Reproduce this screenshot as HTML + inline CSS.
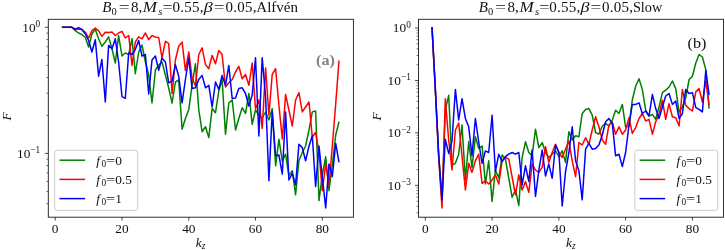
<!DOCTYPE html>
<html><head><meta charset="utf-8"><title>plot</title>
<style>html,body{margin:0;padding:0;background:#fff}svg{display:block}</style>
</head><body>
<svg width="725" height="250" viewBox="0 0 725 250" font-family='"Liberation Serif", "DejaVu Serif", serif' fill="#111">
<rect width="725" height="250" fill="#fff"/>
<clipPath id="c48"><rect x="48.3" y="19.3" width="305.09999999999997" height="197.89999999999998"/></clipPath>
<g clip-path="url(#c48)">
<polyline points="61.9,27.3 65.2,27.3 68.6,27.3 71.9,27.3 75.2,30.6 78.6,33.0 81.9,34.7 85.3,37.5 88.6,47.0 91.9,34.0 95.3,29.2 98.6,38.8 101.9,46.3 105.3,42.0 108.6,36.9 112.0,48.8 115.3,63.0 118.6,35.5 122.0,56.0 125.3,53.0 128.7,54.5 132.0,38.8 135.3,73.7 138.7,52.0 142.0,45.0 145.4,62.0 148.7,75.0 152.0,103.0 155.4,70.0 158.7,65.0 162.0,62.0 165.4,75.0 168.7,88.0 172.1,103.0 175.4,82.0 178.7,80.0 182.1,129.2 185.4,118.5 188.8,109.4 192.1,85.0 195.4,63.8 198.8,110.0 202.1,131.7 205.5,126.8 208.8,137.6 212.1,108.6 215.5,112.7 218.8,91.0 222.1,79.5 225.5,134.2 228.8,103.0 232.2,100.0 235.5,130.0 238.8,118.5 242.2,107.7 245.5,113.5 248.9,93.5 252.2,124.3 255.5,110.0 258.9,115.0 262.2,118.0 265.6,112.0 268.9,120.0 272.2,108.6 275.6,165.8 278.9,139.3 282.3,160.8 285.6,154.2 288.9,175.7 292.3,170.7 295.6,194.8 298.9,160.8 302.3,152.5 305.6,146.0 309.0,130.0 312.3,111.9 315.6,111.0 319.0,200.6 322.3,175.0 325.7,156.7 329.0,190.7 332.3,165.0 335.7,135.0 339.0,121.8" fill="none" stroke="#008000" stroke-width="1.5" stroke-linejoin="round" stroke-linecap="butt"/>
<polyline points="61.9,27.3 65.2,27.3 68.6,27.3 71.9,27.3 75.2,29.7 78.6,28.9 81.9,29.2 85.3,32.2 88.6,38.0 91.9,30.6 95.3,28.1 98.6,30.9 101.9,36.4 105.3,32.2 108.6,32.6 112.0,31.9 115.3,35.5 118.6,33.0 122.0,31.4 125.3,38.0 128.7,35.5 132.0,65.4 135.3,42.0 138.7,36.9 142.0,38.8 145.4,33.0 148.7,39.7 152.0,35.5 155.4,37.2 158.7,37.5 162.0,57.8 165.4,41.3 168.7,43.5 172.1,93.5 175.4,60.0 178.7,46.3 182.1,42.1 185.4,70.4 188.8,52.0 192.1,78.0 195.4,86.0 198.8,54.5 202.1,47.9 205.5,64.6 208.8,68.7 212.1,55.4 215.5,63.8 218.8,50.4 222.1,54.5 225.5,87.0 228.8,82.8 232.2,79.5 235.5,72.0 238.8,66.3 242.2,78.7 245.5,74.5 248.9,85.3 252.2,63.0 255.5,109.0 258.9,100.0 262.2,128.4 265.6,68.0 268.9,115.0 272.2,74.5 275.6,68.7 278.9,105.0 282.3,139.0 285.6,94.4 288.9,110.0 292.3,126.0 295.6,100.0 298.9,92.7 302.3,111.9 305.6,107.0 309.0,102.0 312.3,137.0 315.6,132.5 319.0,152.5 322.3,190.7 325.7,164.0 329.0,185.7 332.3,146.0 335.7,104.0 339.0,60.5" fill="none" stroke="#ff0000" stroke-width="1.5" stroke-linejoin="round" stroke-linecap="butt"/>
<polyline points="61.9,27.3 65.2,27.3 68.6,27.3 71.9,27.3 75.2,29.2 78.6,27.6 81.9,29.7 85.3,33.9 88.6,40.5 91.9,52.0 95.3,39.7 98.6,76.2 101.9,59.5 105.3,102.0 108.6,45.4 112.0,48.8 115.3,38.8 118.6,62.0 122.0,96.6 125.3,98.3 128.7,53.0 132.0,54.5 135.3,49.6 138.7,40.5 142.0,56.0 145.4,54.5 148.7,94.0 152.0,60.0 155.4,56.0 158.7,70.4 162.0,58.0 165.4,62.0 168.7,82.8 172.1,81.0 175.4,64.6 178.7,76.2 182.1,102.8 185.4,79.5 188.8,58.0 192.1,88.6 195.4,87.8 198.8,79.5 202.1,75.4 205.5,87.8 208.8,85.3 212.1,107.0 215.5,82.0 218.8,89.4 222.1,75.4 225.5,85.3 228.8,65.4 232.2,98.5 235.5,98.0 238.8,88.6 242.2,87.8 245.5,93.5 248.9,106.0 252.2,95.0 255.5,57.8 258.9,136.0 262.2,57.8 265.6,97.0 268.9,180.7 272.2,111.9 275.6,155.8 278.9,155.0 282.3,174.0 285.6,111.9 288.9,180.0 292.3,173.3 295.6,184.9 298.9,144.3 302.3,147.6 305.6,160.8 309.0,146.0 312.3,135.8 315.6,186.5 319.0,146.0 322.3,177.0 325.7,208.0 329.0,164.0 332.3,176.6 335.7,143.4 339.0,162.4" fill="none" stroke="#0000ff" stroke-width="1.5" stroke-linejoin="round" stroke-linecap="butt"/>
</g>
<rect x="54.7" y="150.2" width="83" height="60.2" rx="2.5" ry="2.5" fill="#fff" fill-opacity="0.8" stroke="#cccccc" stroke-width="1"/>
<line x1="59.5" y1="160.2" x2="85.1" y2="160.2" stroke="#008000" stroke-width="1.5"/>
<text x="96.30000000000001" y="164.7" font-size="13.3" font-style="italic">f</text>
<text x="101.5" y="166.79999999999998" font-size="9.3">0</text>
<text x="105.9" y="164.7" font-size="13.3" textLength="9.2" lengthAdjust="spacingAndGlyphs">=</text>
<text x="115.2" y="164.7" font-size="13.3">0</text>
<line x1="59.5" y1="179.4" x2="85.1" y2="179.4" stroke="#ff0000" stroke-width="1.5"/>
<text x="96.30000000000001" y="183.9" font-size="13.3" font-style="italic">f</text>
<text x="101.5" y="186.0" font-size="9.3">0</text>
<text x="105.9" y="183.9" font-size="13.3" textLength="9.2" lengthAdjust="spacingAndGlyphs">=</text>
<text x="115.2" y="183.9" font-size="13.3">0.5</text>
<line x1="59.5" y1="198.6" x2="85.1" y2="198.6" stroke="#0000ff" stroke-width="1.5"/>
<text x="96.30000000000001" y="203.1" font-size="13.3" font-style="italic">f</text>
<text x="101.5" y="205.2" font-size="9.3">0</text>
<text x="105.9" y="203.1" font-size="13.3" textLength="9.2" lengthAdjust="spacingAndGlyphs">=</text>
<text x="115.2" y="203.1" font-size="13.3">1</text>
<rect x="48.3" y="19.3" width="305.09999999999997" height="197.89999999999998" fill="none" stroke="#1a1a1a" stroke-width="0.9"/>
<line x1="55.2" y1="217.2" x2="55.2" y2="220.6" stroke="#1a1a1a" stroke-width="0.8"/>
<text x="55.2" y="232.6" font-size="13.3" text-anchor="middle">0</text>
<line x1="122.0" y1="217.2" x2="122.0" y2="220.6" stroke="#1a1a1a" stroke-width="0.8"/>
<text x="122.0" y="232.6" font-size="13.3" text-anchor="middle">20</text>
<line x1="188.8" y1="217.2" x2="188.8" y2="220.6" stroke="#1a1a1a" stroke-width="0.8"/>
<text x="188.8" y="232.6" font-size="13.3" text-anchor="middle">40</text>
<line x1="255.5" y1="217.2" x2="255.5" y2="220.6" stroke="#1a1a1a" stroke-width="0.8"/>
<text x="255.5" y="232.6" font-size="13.3" text-anchor="middle">60</text>
<line x1="322.3" y1="217.2" x2="322.3" y2="220.6" stroke="#1a1a1a" stroke-width="0.8"/>
<text x="322.3" y="232.6" font-size="13.3" text-anchor="middle">80</text>
<line x1="44.9" y1="27.3" x2="48.3" y2="27.3" stroke="#1a1a1a" stroke-width="0.8"/>
<text x="40.2" y="31.5" font-size="13.3" text-anchor="end">10<tspan font-size="9.3" dy="-4.6">0</tspan></text>
<line x1="46.3" y1="115.4" x2="48.3" y2="115.4" stroke="#1a1a1a" stroke-width="0.6"/>
<line x1="46.3" y1="93.2" x2="48.3" y2="93.2" stroke="#1a1a1a" stroke-width="0.6"/>
<line x1="46.3" y1="77.5" x2="48.3" y2="77.5" stroke="#1a1a1a" stroke-width="0.6"/>
<line x1="46.3" y1="65.3" x2="48.3" y2="65.3" stroke="#1a1a1a" stroke-width="0.6"/>
<line x1="46.3" y1="55.3" x2="48.3" y2="55.3" stroke="#1a1a1a" stroke-width="0.6"/>
<line x1="46.3" y1="46.8" x2="48.3" y2="46.8" stroke="#1a1a1a" stroke-width="0.6"/>
<line x1="46.3" y1="39.5" x2="48.3" y2="39.5" stroke="#1a1a1a" stroke-width="0.6"/>
<line x1="46.3" y1="33.1" x2="48.3" y2="33.1" stroke="#1a1a1a" stroke-width="0.6"/>
<line x1="44.9" y1="153.4" x2="48.3" y2="153.4" stroke="#1a1a1a" stroke-width="0.8"/>
<text x="40.2" y="157.6" font-size="13.3" text-anchor="end">10<tspan font-size="9.3" dy="-4.6">−1</tspan></text>
<line x1="46.3" y1="203.6" x2="48.3" y2="203.6" stroke="#1a1a1a" stroke-width="0.6"/>
<line x1="46.3" y1="191.4" x2="48.3" y2="191.4" stroke="#1a1a1a" stroke-width="0.6"/>
<line x1="46.3" y1="181.4" x2="48.3" y2="181.4" stroke="#1a1a1a" stroke-width="0.6"/>
<line x1="46.3" y1="172.9" x2="48.3" y2="172.9" stroke="#1a1a1a" stroke-width="0.6"/>
<line x1="46.3" y1="165.6" x2="48.3" y2="165.6" stroke="#1a1a1a" stroke-width="0.6"/>
<line x1="46.3" y1="159.2" x2="48.3" y2="159.2" stroke="#1a1a1a" stroke-width="0.6"/>
<text x="102.2" y="12.2" font-size="15" font-style="italic">B</text>
<text x="111.5" y="14.6" font-size="10.5">0</text>
<text x="118.7" y="12.2" font-size="15" textLength="10.8" lengthAdjust="spacingAndGlyphs">=</text>
<text x="130.9" y="12.2" font-size="15" >8,</text>
<text x="142.8" y="12.2" font-size="15" font-style="italic" textLength="14.2" lengthAdjust="spacingAndGlyphs">M</text>
<text x="158.3" y="14.6" font-size="10.5" font-style="italic">s</text>
<text x="162.6" y="12.2" font-size="15" textLength="10.2" lengthAdjust="spacingAndGlyphs">=</text>
<text x="172.6" y="12.2" font-size="15" textLength="31" lengthAdjust="spacing">0.55,</text>
<text x="203.8" y="12.2" font-size="15" font-style="italic" textLength="9" lengthAdjust="spacingAndGlyphs">β</text>
<text x="213.8" y="12.2" font-size="15" textLength="10.7" lengthAdjust="spacingAndGlyphs">=</text>
<text x="225.4" y="12.2" font-size="15" textLength="31" lengthAdjust="spacing">0.05,</text>
<text x="256.3" y="12.2" font-size="15" >Alfvén</text>
<text x="195.8" y="246.9" font-size="13.3" font-style="italic">k<tspan font-size="9.3" dy="2">z</tspan></text>
<text transform="translate(11,120.6) rotate(-90)" font-size="13.3" font-style="italic">F</text>
<text x="316.05" y="64.9" font-size="15.5" textLength="18.9" lengthAdjust="spacingAndGlyphs" font-weight="bold" fill="#828282">(a)</text>
<clipPath id="c418"><rect x="418.5" y="19.3" width="305.0" height="197.89999999999998"/></clipPath>
<g clip-path="url(#c418)">
<polyline points="432.0,27.0 435.3,88.0 438.7,155.0 442.0,200.0 445.3,110.0 448.7,95.2 452.0,165.0 455.4,163.3 458.7,154.2 462.0,125.1 465.4,180.0 468.7,141.8 472.0,167.4 475.4,136.7 478.7,148.4 482.1,146.0 485.4,184.0 488.7,160.8 492.1,201.4 495.4,170.0 498.8,178.0 502.1,155.0 505.4,159.0 508.8,178.0 512.1,197.3 515.5,189.9 518.8,205.6 522.1,157.5 525.5,141.8 528.8,152.5 532.1,155.8 535.5,129.2 538.8,147.6 542.2,142.6 545.5,152.5 548.8,157.5 552.2,154.2 555.5,150.9 558.9,156.7 562.2,150.9 565.5,162.4 568.9,131.7 572.2,140.0 575.6,135.8 578.9,136.7 582.2,113.5 585.6,109.4 588.9,108.6 592.2,115.2 595.6,132.5 598.9,134.2 602.3,126.0 605.6,123.4 608.9,126.0 612.3,120.1 615.6,110.2 619.0,113.5 622.3,104.4 625.6,127.0 629.0,126.0 632.3,100.0 635.7,86.0 639.0,78.7 642.3,89.4 645.7,110.2 649.0,116.0 652.4,114.4 655.7,119.3 659.0,107.0 662.4,92.7 665.7,90.2 669.0,87.0 672.4,81.0 675.7,88.6 679.1,112.0 682.4,107.0 685.7,98.0 689.1,79.5 692.4,76.2 695.8,63.0 699.1,54.5 702.4,57.0 705.8,69.6 709.1,108.6" fill="none" stroke="#008000" stroke-width="1.5" stroke-linejoin="round" stroke-linecap="butt"/>
<polyline points="432.0,27.0 435.3,90.0 438.7,158.0 442.0,208.0 445.3,98.7 448.7,140.0 452.0,170.0 455.4,130.0 458.7,123.0 462.0,156.0 465.4,189.9 468.7,163.3 472.0,172.4 475.4,160.8 478.7,154.2 482.1,183.3 485.4,180.8 488.7,184.0 492.1,180.0 495.4,174.8 498.8,184.0 502.1,160.8 505.4,157.5 508.8,159.1 512.1,177.0 515.5,194.8 518.8,174.8 522.1,189.9 525.5,181.6 528.8,192.4 532.1,164.0 535.5,170.0 538.8,172.4 542.2,167.4 545.5,146.7 548.8,162.4 552.2,152.5 555.5,144.3 558.9,152.5 562.2,157.5 565.5,149.2 568.9,141.0 572.2,160.8 575.6,176.7 578.9,142.6 582.2,145.0 585.6,137.7 588.9,144.3 592.2,130.0 595.6,116.8 598.9,126.8 602.3,140.0 605.6,144.3 608.9,125.0 612.3,122.0 615.6,134.2 619.0,126.8 622.3,134.2 625.6,130.0 629.0,117.7 632.3,133.4 635.7,127.6 639.0,118.5 642.3,113.5 645.7,121.0 649.0,119.3 652.4,134.2 655.7,121.8 659.0,114.4 662.4,100.3 665.7,119.3 669.0,103.6 672.4,116.8 675.7,117.7 679.1,126.0 682.4,89.4 685.7,105.3 689.1,108.6 692.4,111.0 695.8,91.9 699.1,88.6 702.4,102.0 705.8,81.0 709.1,105.0" fill="none" stroke="#ff0000" stroke-width="1.5" stroke-linejoin="round" stroke-linecap="butt"/>
<polyline points="432.0,27.0 435.3,88.0 438.7,155.0 442.0,199.8 445.3,139.3 448.7,153.4 452.0,141.0 455.4,89.4 458.7,120.0 462.0,98.7 465.4,118.5 468.7,126.8 472.0,155.8 475.4,118.5 478.7,142.0 482.1,163.3 485.4,150.9 488.7,152.5 492.1,115.2 495.4,171.5 498.8,154.2 502.1,161.6 505.4,156.7 508.8,154.2 512.1,152.5 515.5,154.2 518.8,152.5 522.1,184.9 525.5,165.8 528.8,181.6 532.1,150.0 535.5,196.5 538.8,170.7 542.2,150.0 545.5,176.0 548.8,164.0 552.2,178.3 555.5,145.0 558.9,152.5 562.2,206.0 565.5,172.0 568.9,152.5 572.2,126.8 575.6,160.8 578.9,170.7 582.2,199.8 585.6,149.2 588.9,143.4 592.2,149.2 595.6,148.4 598.9,145.0 602.3,135.0 605.6,121.8 608.9,118.5 612.3,123.4 615.6,155.8 619.0,154.2 622.3,166.6 625.6,152.5 629.0,125.0 632.3,104.4 635.7,104.4 639.0,102.8 642.3,113.5 645.7,111.0 649.0,116.0 652.4,94.4 655.7,108.6 659.0,118.5 662.4,107.0 665.7,96.0 669.0,93.5 672.4,104.4 675.7,101.0 679.1,118.5 682.4,113.5 685.7,89.4 689.1,93.5 692.4,92.7 695.8,107.7 699.1,109.4 702.4,111.9 705.8,70.4 709.1,95.2" fill="none" stroke="#0000ff" stroke-width="1.5" stroke-linejoin="round" stroke-linecap="butt"/>
</g>
<rect x="634.8" y="150.2" width="83" height="60.2" rx="2.5" ry="2.5" fill="#fff" fill-opacity="0.8" stroke="#cccccc" stroke-width="1"/>
<line x1="639.5999999999999" y1="160.2" x2="665.1999999999999" y2="160.2" stroke="#008000" stroke-width="1.5"/>
<text x="676.4" y="164.7" font-size="13.3" font-style="italic">f</text>
<text x="681.5999999999999" y="166.79999999999998" font-size="9.3">0</text>
<text x="686.0" y="164.7" font-size="13.3" textLength="9.2" lengthAdjust="spacingAndGlyphs">=</text>
<text x="695.3" y="164.7" font-size="13.3">0</text>
<line x1="639.5999999999999" y1="179.4" x2="665.1999999999999" y2="179.4" stroke="#ff0000" stroke-width="1.5"/>
<text x="676.4" y="183.9" font-size="13.3" font-style="italic">f</text>
<text x="681.5999999999999" y="186.0" font-size="9.3">0</text>
<text x="686.0" y="183.9" font-size="13.3" textLength="9.2" lengthAdjust="spacingAndGlyphs">=</text>
<text x="695.3" y="183.9" font-size="13.3">0.5</text>
<line x1="639.5999999999999" y1="198.6" x2="665.1999999999999" y2="198.6" stroke="#0000ff" stroke-width="1.5"/>
<text x="676.4" y="203.1" font-size="13.3" font-style="italic">f</text>
<text x="681.5999999999999" y="205.2" font-size="9.3">0</text>
<text x="686.0" y="203.1" font-size="13.3" textLength="9.2" lengthAdjust="spacingAndGlyphs">=</text>
<text x="695.3" y="203.1" font-size="13.3">1</text>
<rect x="418.5" y="19.3" width="305.0" height="197.89999999999998" fill="none" stroke="#1a1a1a" stroke-width="0.9"/>
<line x1="425.3" y1="217.2" x2="425.3" y2="220.6" stroke="#1a1a1a" stroke-width="0.8"/>
<text x="425.3" y="232.6" font-size="13.3" text-anchor="middle">0</text>
<line x1="492.1" y1="217.2" x2="492.1" y2="220.6" stroke="#1a1a1a" stroke-width="0.8"/>
<text x="492.1" y="232.6" font-size="13.3" text-anchor="middle">20</text>
<line x1="558.9" y1="217.2" x2="558.9" y2="220.6" stroke="#1a1a1a" stroke-width="0.8"/>
<text x="558.9" y="232.6" font-size="13.3" text-anchor="middle">40</text>
<line x1="625.6" y1="217.2" x2="625.6" y2="220.6" stroke="#1a1a1a" stroke-width="0.8"/>
<text x="625.6" y="232.6" font-size="13.3" text-anchor="middle">60</text>
<line x1="692.4" y1="217.2" x2="692.4" y2="220.6" stroke="#1a1a1a" stroke-width="0.8"/>
<text x="692.4" y="232.6" font-size="13.3" text-anchor="middle">80</text>
<line x1="415.1" y1="28.0" x2="418.5" y2="28.0" stroke="#1a1a1a" stroke-width="0.8"/>
<text x="410.8" y="32.2" font-size="13.3" text-anchor="end">10<tspan font-size="9.3" dy="-4.6">0</tspan></text>
<line x1="416.5" y1="64.7" x2="418.5" y2="64.7" stroke="#1a1a1a" stroke-width="0.6"/>
<line x1="416.5" y1="55.4" x2="418.5" y2="55.4" stroke="#1a1a1a" stroke-width="0.6"/>
<line x1="416.5" y1="48.9" x2="418.5" y2="48.9" stroke="#1a1a1a" stroke-width="0.6"/>
<line x1="416.5" y1="43.8" x2="418.5" y2="43.8" stroke="#1a1a1a" stroke-width="0.6"/>
<line x1="416.5" y1="39.6" x2="418.5" y2="39.6" stroke="#1a1a1a" stroke-width="0.6"/>
<line x1="416.5" y1="36.1" x2="418.5" y2="36.1" stroke="#1a1a1a" stroke-width="0.6"/>
<line x1="416.5" y1="33.1" x2="418.5" y2="33.1" stroke="#1a1a1a" stroke-width="0.6"/>
<line x1="416.5" y1="30.4" x2="418.5" y2="30.4" stroke="#1a1a1a" stroke-width="0.6"/>
<line x1="415.1" y1="80.5" x2="418.5" y2="80.5" stroke="#1a1a1a" stroke-width="0.8"/>
<text x="410.8" y="84.7" font-size="13.3" text-anchor="end">10<tspan font-size="9.3" dy="-4.6">−1</tspan></text>
<line x1="416.5" y1="117.1" x2="418.5" y2="117.1" stroke="#1a1a1a" stroke-width="0.6"/>
<line x1="416.5" y1="107.9" x2="418.5" y2="107.9" stroke="#1a1a1a" stroke-width="0.6"/>
<line x1="416.5" y1="101.3" x2="418.5" y2="101.3" stroke="#1a1a1a" stroke-width="0.6"/>
<line x1="416.5" y1="96.3" x2="418.5" y2="96.3" stroke="#1a1a1a" stroke-width="0.6"/>
<line x1="416.5" y1="92.1" x2="418.5" y2="92.1" stroke="#1a1a1a" stroke-width="0.6"/>
<line x1="416.5" y1="88.6" x2="418.5" y2="88.6" stroke="#1a1a1a" stroke-width="0.6"/>
<line x1="416.5" y1="85.6" x2="418.5" y2="85.6" stroke="#1a1a1a" stroke-width="0.6"/>
<line x1="416.5" y1="82.9" x2="418.5" y2="82.9" stroke="#1a1a1a" stroke-width="0.6"/>
<line x1="415.1" y1="132.9" x2="418.5" y2="132.9" stroke="#1a1a1a" stroke-width="0.8"/>
<text x="410.8" y="137.1" font-size="13.3" text-anchor="end">10<tspan font-size="9.3" dy="-4.6">−2</tspan></text>
<line x1="416.5" y1="169.6" x2="418.5" y2="169.6" stroke="#1a1a1a" stroke-width="0.6"/>
<line x1="416.5" y1="160.4" x2="418.5" y2="160.4" stroke="#1a1a1a" stroke-width="0.6"/>
<line x1="416.5" y1="153.8" x2="418.5" y2="153.8" stroke="#1a1a1a" stroke-width="0.6"/>
<line x1="416.5" y1="148.7" x2="418.5" y2="148.7" stroke="#1a1a1a" stroke-width="0.6"/>
<line x1="416.5" y1="144.6" x2="418.5" y2="144.6" stroke="#1a1a1a" stroke-width="0.6"/>
<line x1="416.5" y1="141.1" x2="418.5" y2="141.1" stroke="#1a1a1a" stroke-width="0.6"/>
<line x1="416.5" y1="138.0" x2="418.5" y2="138.0" stroke="#1a1a1a" stroke-width="0.6"/>
<line x1="416.5" y1="135.3" x2="418.5" y2="135.3" stroke="#1a1a1a" stroke-width="0.6"/>
<line x1="415.1" y1="185.4" x2="418.5" y2="185.4" stroke="#1a1a1a" stroke-width="0.8"/>
<text x="410.8" y="189.6" font-size="13.3" text-anchor="end">10<tspan font-size="9.3" dy="-4.6">−3</tspan></text>
<line x1="416.5" y1="212.8" x2="418.5" y2="212.8" stroke="#1a1a1a" stroke-width="0.6"/>
<line x1="416.5" y1="206.3" x2="418.5" y2="206.3" stroke="#1a1a1a" stroke-width="0.6"/>
<line x1="416.5" y1="201.2" x2="418.5" y2="201.2" stroke="#1a1a1a" stroke-width="0.6"/>
<line x1="416.5" y1="197.1" x2="418.5" y2="197.1" stroke="#1a1a1a" stroke-width="0.6"/>
<line x1="416.5" y1="193.5" x2="418.5" y2="193.5" stroke="#1a1a1a" stroke-width="0.6"/>
<line x1="416.5" y1="190.5" x2="418.5" y2="190.5" stroke="#1a1a1a" stroke-width="0.6"/>
<line x1="416.5" y1="187.8" x2="418.5" y2="187.8" stroke="#1a1a1a" stroke-width="0.6"/>
<text x="478.8" y="12.2" font-size="15" font-style="italic">B</text>
<text x="488.1" y="14.6" font-size="10.5">0</text>
<text x="495.3" y="12.2" font-size="15" textLength="10.8" lengthAdjust="spacingAndGlyphs">=</text>
<text x="507.5" y="12.2" font-size="15" >8,</text>
<text x="519.4" y="12.2" font-size="15" font-style="italic" textLength="14.2" lengthAdjust="spacingAndGlyphs">M</text>
<text x="534.9" y="14.6" font-size="10.5" font-style="italic">s</text>
<text x="539.2" y="12.2" font-size="15" textLength="10.2" lengthAdjust="spacingAndGlyphs">=</text>
<text x="549.2" y="12.2" font-size="15" textLength="31" lengthAdjust="spacing">0.55,</text>
<text x="580.4" y="12.2" font-size="15" font-style="italic" textLength="9" lengthAdjust="spacingAndGlyphs">β</text>
<text x="590.4" y="12.2" font-size="15" textLength="10.7" lengthAdjust="spacingAndGlyphs">=</text>
<text x="602.0" y="12.2" font-size="15" textLength="31" lengthAdjust="spacing">0.05,</text>
<text x="632.9" y="12.2" font-size="15" textLength="29.4" lengthAdjust="spacingAndGlyphs">Slow</text>
<text x="566.0" y="246.9" font-size="13.3" font-style="italic">k<tspan font-size="9.3" dy="2">z</tspan></text>
<text transform="translate(381.3,120.6) rotate(-90)" font-size="13.3" font-style="italic">F</text>
<text x="687.55" y="48.1" font-size="15.5" textLength="18.9" lengthAdjust="spacingAndGlyphs" >(b)</text>
</svg>
</body></html>
